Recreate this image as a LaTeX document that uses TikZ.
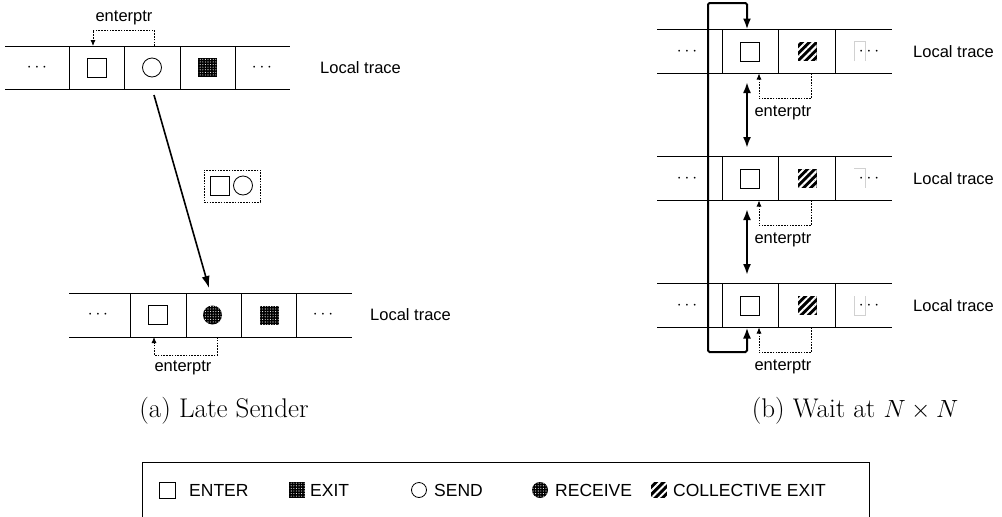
\documentclass[tikz,border=0pt]{standalone}
\usepackage{fontspec}
\setsansfont{Liberation Sans}
\usetikzlibrary{arrows.meta,patterns.meta}
\begin{document}
\begin{tikzpicture}[x=1pt,y=-1pt,
  trace/.style={line width=0.8pt},
  entersq/.style={draw,line width=0.8pt,minimum size=19pt,inner sep=0pt,fill=white},
  exitsq/.style={fill=black,minimum size=19pt,inner sep=0pt,
     postaction={pattern={Dots[distance=2.6pt,radius=0.55pt]},pattern color=white}},
  collsq/.style={fill=black,minimum size=19pt,inner sep=0pt,
     postaction={pattern={Lines[angle=45,distance=5.2pt,line width=2pt]},pattern color=white}},
  sendc/.style={draw,circle,line width=0.8pt,minimum size=19pt,inner sep=0pt},
  recvc/.style={circle,fill=black,minimum size=19pt,inner sep=0pt,
     postaction={pattern={Dots[distance=2.6pt,radius=0.55pt]},pattern color=white}},
  dotsnode/.style={inner sep=0pt,font=\fontsize{17}{20}\selectfont},
  lt/.style={anchor=west,inner sep=0pt,font=\sffamily\fontsize{16.5}{19}\selectfont},
  ptrlab/.style={inner sep=0pt,font=\sffamily\fontsize{16.5}{19}\selectfont},
  ptr/.style={line width=0.8pt,dash pattern=on 1.6pt off 1.2pt,-{Latex[length=6pt,width=5pt]}},
  bigarrow/.style={line width=1.6pt,-{Latex[length=12pt,width=8pt]}},
  thickarrow/.style={line width=2pt,{Latex[length=11pt,width=8pt]}-{Latex[length=11pt,width=8pt]}},
  captext/.style={inner sep=0pt,font=\fontsize{27}{31}\selectfont},
  legtext/.style={anchor=west,inner sep=0pt,font=\sffamily\fontsize{17.5}{20}\selectfont},
  faint/.style={line width=0.4pt,black!18}
]
\useasboundingbox (0,0) rectangle (1002,517);
\clip (0,0) rectangle (1002,517);

% ================= (a) top trace =================
\draw[trace] (5,46) -- (290,46) (5,89) -- (290,89);
\foreach \x in {69,124,180,235} \draw[trace] (\x,46) -- (\x,89);
\node[dotsnode] (aTd1) at (37,67.5) {$\cdots$};
\node[entersq] (aTen) at (97,67.5) {};
\node[sendc] (aTsend) at (152,67.5) {};
\node[exitsq] (aTex) at (207,67.5) {};
\node[dotsnode] (aTd2) at (262,67.5) {$\cdots$};
\node[lt] (aTlt) at (320,67.5) {Local trace};
\coordinate (aTs) at (154,46);
\coordinate (aTe) at (93,46);
\draw[ptr] (aTs) -- ++(0,-16) -| (aTe);
\node[ptrlab] (aTptr) at (124,18) {enterptr};

% message
\node[draw,line width=0.8pt,dash pattern=on 1.6pt off 1.2pt,minimum width=56pt,minimum height=32pt,inner sep=0pt] (msg) at (232,186) {};
\node[entersq] (msgen) at (219.5,185.5) {};
\node[sendc] (msgsend) at (243,185.5) {};

% ================= (a) bottom trace =================
\draw[trace] (69,293) -- (352,293) (69,337) -- (352,337);
\foreach \x in {130,186,241,296} \draw[trace] (\x,293) -- (\x,337);
\node[dotsnode] (aBd1) at (98,315) {$\cdots$};
\node[entersq] (aBen) at (158,315) {};
\node[recvc] (aBrecv) at (212.5,315) {};
\node[exitsq] (aBex) at (269,315) {};
\node[dotsnode] (aBd2) at (323,315) {$\cdots$};
\node[lt] (aBlt) at (370,315) {Local trace};
\coordinate (aBs) at (217,337);
\coordinate (aBe) at (154,337);
\draw[ptr] (aBs) -- ++(0,18) -| (aBe);
\node[ptrlab] (aBptr) at (183,368) {enterptr};

% send -> receive
\coordinate (sendbot) at (154,95);
\coordinate (recvtop) at (209,288);
\draw[bigarrow] (sendbot) -- (recvtop);

\node[captext] (capa) at (224,411) {(a) Late Sender};

% ================= (b) =================
\foreach \r/\yc in {1/51.5,2/178.5,3/305.5}{
  \draw[trace] (657,\yc-22) -- (892,\yc-22) (657,\yc+22) -- (892,\yc+22);
  \foreach \x in {722,778,835} \draw[trace] (\x,\yc-22) -- (\x,\yc+22);
  \node[dotsnode] (bd1\r) at (687,\yc) {$\cdots$};
  \node[entersq] (ben\r) at (750,\yc) {};
  \node[collsq] (bcol\r) at (807,\yc) {};
  \node[dotsnode] (bd2\r) at (869,\yc) {$\cdots$};
  \node[lt] (blt\r) at (913,\yc) {Local trace};
  \coordinate (bs\r) at (811,\yc+22);
  \coordinate (be\r) at (759,\yc+22);
  \draw[ptr] (bs\r) -- ++(0,25) -| (be\r);
  \node[ptrlab] (bptr\r) at (783,\yc+61) {enterptr};
}
% faint artefacts around right dots
\draw[faint] (854,61) -- (854,41) -- (865,41) -- (865,61);
\draw[faint] (854,168) -- (865,168) -- (865,188);
\draw[faint] (854,296) -- (854,315) -- (865,315) -- (865,296);

% ring connector
\coordinate (b1top) at (747,29.5);
\coordinate (b3bot) at (747,327.5);
\draw[thickarrow,rounded corners=1.5pt] (b3bot) -- (747,352) -- (708,352) -- (708,3) -- (747,3) -- (b1top);
\coordinate (r1a) at (747,74);
\coordinate (r1b) at (747,156);
\coordinate (r2a) at (747,201);
\coordinate (r2b) at (747,283);
\draw[thickarrow] ([yshift=-8pt]r1a) -- ([yshift=8pt]r1b);
\draw[thickarrow] ([yshift=-8pt]r2a) -- ([yshift=8pt]r2b);

\node[captext] (capb) at (855,411) {(b) Wait at $N\times N$};

% ================= legend =================
\draw[line width=0.8pt] (142,530) -- (142,462) -- (869,462) -- (869,530);
\node[entersq,minimum size=16pt] (lgen) at (167,490) {};
\node[legtext] (lgent) at (189,490) {ENTER};
\node[exitsq,minimum size=16pt] (lgex) at (297,490) {};
\node[legtext] (lgext) at (310,490) {EXIT};
\node[sendc,minimum size=15pt] (lgsd) at (419,490) {};
\node[legtext] (lgsdt) at (434,490) {SEND};
\node[recvc,minimum size=16pt] (lgrc) at (540,490) {};
\node[legtext] (lgrct) at (555,490) {RECEIVE};
\node[collsq,minimum size=16pt] (lgco) at (659,490) {};
\node[legtext] (lgcot) at (673,490) {COLLECTIVE EXIT};
\end{tikzpicture}
\end{document}
